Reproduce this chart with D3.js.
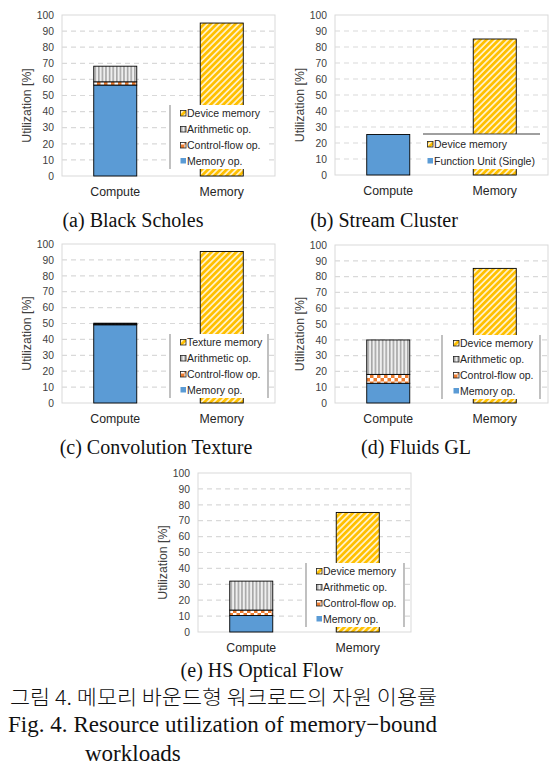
<!DOCTYPE html>
<html><head><meta charset="utf-8">
<script src="https://cdn.jsdelivr.net/npm/d3@7"></script>
<style>body{margin:0;background:#fff}</style>
</head><body><svg id="c" width="560" height="777"></svg>
<script>
const categories = ["Compute", "Memory"];
const panelTitles = ["(a) Black Scholes", "(b) Stream Cluster", "(c) Convolution Texture", "(d) Fluids GL", "(e) HS Optical Flow"];
const yTicks = [0, 10, 20, 30, 40, 50, 60, 70, 80, 90, 100];
const memoryOpValues = [56.5, 0, 49.2, 12.5, 10.4];
const controlFlowValues = [2, 0, 0.4, 5.6, 3.4];
const arithmeticValues = [9.7, 0, 0.6, 21.8, 18.2];
const functionUnitValues = [0, 25.3, 0, 0, 0];
const memoryValues = [95, 85, 95.3, 85.2, 75.2];
const memoryLegendLabels = ["Device memory", "Device memory", "Texture memory", "Device memory", "Device memory"];
const computeLegendLabels = ["Arithmetic op.", "Control-flow op.", "Memory op."];
const functionUnitLabel = "Function Unit (Single)";
const yTitle = "Utilization [%]";
const captionKo = "그림 4. 메모리 바운드형 워크로드의 자원 이용률";
const captionEn1 = "Fig. 4. Resource utilization of memory−bound";
const captionEn2 = "workloads";

const SANS = "'Liberation Sans', Arial, sans-serif";
const SERIF = "'Liberation Serif', 'Times New Roman', serif";
const W = 213;
const layout = [
  {x: 62, y: 15, h: 161, cap: [133, 227], leg: "four", lines: [108, null]},
  {x: 335, y: 15, h: 160, cap: [384, 227], leg: "two"},
  {x: 62, y: 244, h: 159, cap: [156, 454], leg: "four", lines: [108, 206]},
  {x: 335, y: 245, h: 158, cap: [416, 454], leg: "four", lines: [107, 205]},
  {x: 198, y: 473, h: 159, cap: [262, 677], leg: "four", lines: [108, 206]}
];

const svg = d3.select("#c");
const defs = svg.append("defs");
const pd = defs.append("pattern").attr("id", "pDev").attr("patternUnits", "userSpaceOnUse")
  .attr("width", 4.4).attr("height", 4.4).attr("patternTransform", "rotate(45)");
pd.append("rect").attr("width", 4.4).attr("height", 4.4).attr("fill", "#FFF2CC");
pd.append("rect").attr("width", 2.7).attr("height", 4.4).attr("fill", "#FFC000");
const pa = defs.append("pattern").attr("id", "pAr").attr("patternUnits", "userSpaceOnUse")
  .attr("width", 3.6).attr("height", 4);
pa.append("rect").attr("width", 3.6).attr("height", 4).attr("fill", "#EEEEEE");
pa.append("rect").attr("width", 1.6).attr("height", 4).attr("fill", "#A6A6A6");
const pc = defs.append("pattern").attr("id", "pCf").attr("patternUnits", "userSpaceOnUse")
  .attr("width", 7).attr("height", 7);
pc.append("rect").attr("width", 7).attr("height", 7).attr("fill", "#ED7D31");
pc.append("rect").attr("width", 3.5).attr("height", 3.5).attr("fill", "#FFFFFF");
pc.append("rect").attr("x", 3.5).attr("y", 3.5).attr("width", 3.5).attr("height", 3.5).attr("fill", "#FFFFFF");

const BLUE = "#5B9BD5";

layout.forEach((L, i) => {
  const g = svg.append("g").attr("transform", `translate(${L.x},${L.y})`);
  const x = d3.scaleBand().domain(categories).range([0, W]).paddingInner(0.596).paddingOuter(0.298);
  const y = d3.scaleLinear().domain([0, 100]).range([L.h, 0]);

  g.selectAll(".grid").data(yTicks.filter(t => t > 0 && t < 100)).enter().append("line")
    .attr("x1", 0).attr("x2", W).attr("y1", d => y(d)).attr("y2", d => y(d))
    .attr("stroke", "#d9d9d9").attr("stroke-width", 1.2).attr("stroke-dasharray", "5,4");
  g.append("rect").attr("x", 0).attr("y", 0).attr("width", W).attr("height", L.h)
    .attr("fill", "none").attr("stroke", "#d9d9d9").attr("stroke-width", 1);

  const ya = g.append("g").call(d3.axisLeft(y).tickValues(yTicks).tickSize(0).tickPadding(8));
  ya.select(".domain").remove();
  ya.selectAll("text").attr("font-family", SANS).attr("font-size", 10.3).attr("fill", "#404040");

  const xa = g.append("g").attr("transform", `translate(0,${L.h})`)
    .call(d3.axisBottom(x).tickSize(0).tickPadding(11));
  xa.select(".domain").remove();
  xa.selectAll("text").attr("font-family", SANS).attr("font-size", 12.3).attr("fill", "#262626");

  let segs;
  if (functionUnitValues[i] > 0) {
    segs = [{v0: 0, v1: functionUnitValues[i], fill: BLUE}];
  } else {
    const a = memoryOpValues[i], b = a + controlFlowValues[i], c = b + arithmeticValues[i];
    segs = [{v0: 0, v1: a, fill: BLUE}, {v0: a, v1: b, fill: "url(#pCf)"}, {v0: b, v1: c, fill: "url(#pAr)"}];
  }
  g.selectAll(".seg").data(segs).enter().append("rect")
    .attr("x", x("Compute")).attr("width", x.bandwidth())
    .attr("y", d => y(d.v1)).attr("height", d => y(d.v0) - y(d.v1))
    .attr("fill", d => d.fill).attr("stroke", "#000").attr("stroke-width", 0.9);
  g.append("rect").attr("x", x("Memory")).attr("width", x.bandwidth())
    .attr("y", y(memoryValues[i])).attr("height", y(0) - y(memoryValues[i]))
    .attr("fill", "url(#pDev)").attr("stroke", "#000").attr("stroke-width", 0.9);

  const lg = g.append("g");
  if (L.leg === "four") {
    lg.append("rect").attr("x", L.lines[0]).attr("y", 90).attr("width", 98).attr("height", 64).attr("fill", "#fff");
    L.lines.forEach(lx => {
      if (lx !== null) lg.append("line").attr("x1", lx).attr("x2", lx).attr("y1", 90).attr("y2", 154)
        .attr("stroke", "#a6a6a6").attr("stroke-width", 1.4);
    });
    const items = [
      {label: memoryLegendLabels[i], fill: "url(#pDev)", stroke: "#222"},
      {label: computeLegendLabels[0], fill: "url(#pAr)", stroke: "#222"},
      {label: computeLegendLabels[1], fill: "url(#pCf)", stroke: "#222"},
      {label: computeLegendLabels[2], fill: BLUE, stroke: "none"}
    ];
    const ly = [98.5, 114.5, 130.5, 146];
    items.forEach((it, k) => {
      lg.append("rect").attr("x", 118.5).attr("y", ly[k] - 3).attr("width", 5.5).attr("height", 5.5)
        .attr("fill", it.fill).attr("stroke", it.stroke).attr("stroke-width", 0.8);
      lg.append("text").attr("x", 125).attr("y", ly[k]).attr("dy", "0.35em")
        .attr("font-family", SANS).attr("font-size", 10.5).attr("fill", "#262626").text(it.label);
    });
  } else {
    lg.append("rect").attr("x", 88).attr("y", 119).attr("width", 117).attr("height", 35).attr("fill", "#fff");
    lg.append("line").attr("x1", 88).attr("x2", 205).attr("y1", 119).attr("y2", 119)
      .attr("stroke", "#404040").attr("stroke-width", 1);
    const items = [
      {label: memoryLegendLabels[i], fill: "url(#pDev)", stroke: "#222"},
      {label: functionUnitLabel, fill: BLUE, stroke: "none"}
    ];
    const ly = [129.5, 146];
    items.forEach((it, k) => {
      lg.append("rect").attr("x", 92.5).attr("y", ly[k] - 3).attr("width", 5.5).attr("height", 5.5)
        .attr("fill", it.fill).attr("stroke", it.stroke).attr("stroke-width", 0.8);
      lg.append("text").attr("x", 99).attr("y", ly[k]).attr("dy", "0.35em")
        .attr("font-family", SANS).attr("font-size", 10.5).attr("fill", "#262626").text(it.label);
    });
  }

  g.append("text").attr("transform", `translate(-35,${L.h / 2 + 10}) rotate(-90)`)
    .attr("text-anchor", "middle").attr("dy", "0.35em")
    .attr("font-family", SANS).attr("font-size", 12.3).attr("fill", "#404040").text(yTitle);

  svg.append("text").attr("x", L.cap[0]).attr("y", L.cap[1]).attr("text-anchor", "middle")
    .attr("font-family", SERIF).attr("font-size", 20).attr("fill", "#111").text(panelTitles[i]);
});

svg.append("text").attr("x", 10).attr("y", 705).attr("textLength", 427).attr("lengthAdjust", "spacingAndGlyphs")
  .attr("font-family", "'Noto Sans CJK KR', sans-serif").attr("font-weight", 300)
  .attr("font-size", 20).attr("fill", "#111").text(captionKo);
svg.append("text").attr("x", 8).attr("y", 732).attr("textLength", 429).attr("lengthAdjust", "spacing")
  .attr("font-family", SERIF).attr("font-size", 23).attr("fill", "#111").text(captionEn1);
svg.append("text").attr("x", 85).attr("y", 761)
  .attr("font-family", SERIF).attr("font-size", 23).attr("fill", "#111").text(captionEn2);
</script>
</body></html>
